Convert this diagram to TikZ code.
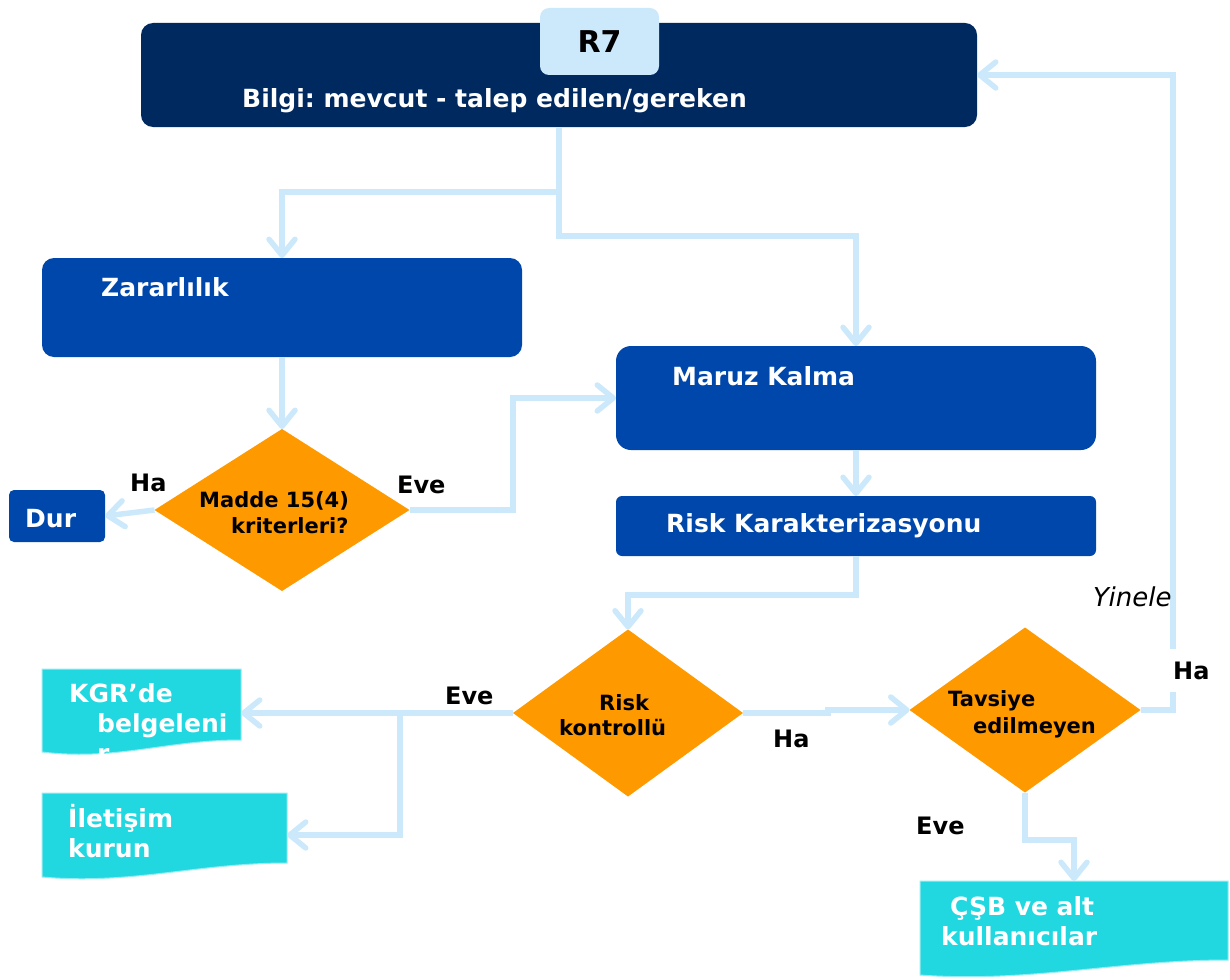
\documentclass[tikz,border=0pt]{standalone}
\usepackage{fontspec}
\setmainfont{DejaVu Sans}
\usetikzlibrary{shapes.geometric,arrows.meta,calc}
\definecolor{navy}{RGB}{0,41,96}
\definecolor{boxblue}{RGB}{0,71,171}
\definecolor{paleblue}{RGB}{204,233,252}
\definecolor{amber}{RGB}{255,153,0}
\definecolor{aqua}{RGB}{34,216,224}
\definecolor{aquaedge}{RGB}{150,236,240}
\frenchspacing

\begin{document}
\begin{tikzpicture}[x=1pt,y=-1pt,
  box/.style={rectangle, inner sep=0pt, outer sep=0pt},
  navybox/.style={box, fill=navy, rounded corners=12pt},
  bluebox/.style={box, fill=boxblue},
  tagbox/.style={box, fill=paleblue, rounded corners=9pt},
  decision/.style={diamond, inner sep=0pt, outer sep=0pt, fill=amber},
  docbase/.style={box},
  docfill/.style={fill=aqua, draw=aquaedge, line width=1pt},
  boxtext/.style={inner sep=0pt, anchor=base west, text=white,
    font=\fontsize{25}{30}\selectfont\bfseries},
  decisiontext/.style={inner sep=0pt, anchor=base west, text=black,
    font=\fontsize{21}{25}\selectfont\bfseries},
  answer/.style={inner sep=0pt, anchor=base west, text=black,
    font=\fontsize{24}{28}\selectfont\bfseries},
  link/.style={draw=paleblue, line width=5.5pt},
  arrowlink/.style={link, -{Straight Barb[length=16pt, width=26pt, round]}}
]
\useasboundingbox (0,0) rectangle (1230,979);

% ---- boxes ----
\node[navybox, minimum width=836pt, minimum height=104pt] (top) at (559,75) {};
\node[tagbox, minimum width=119pt, minimum height=67pt] (tag) at (599.5,41.5) {};
\node[bluebox, rounded corners=12pt, minimum width=480pt, minimum height=99pt] (zar) at (282,307.5) {};
\node[bluebox, rounded corners=15pt, minimum width=480pt, minimum height=104pt] (mar) at (856,398) {};
\node[bluebox, rounded corners=6pt, minimum width=480pt, minimum height=60pt] (rk) at (856,526) {};
\node[bluebox, rounded corners=5pt, minimum width=96pt, minimum height=52pt] (dur) at (57,516) {};

% ---- decisions ----
\node[decision, minimum width=255pt, minimum height=162pt] (d1) at (282,510) {};
\node[decision, minimum width=230pt, minimum height=167pt] (d2) at (628,713) {};
\node[decision, minimum width=231pt, minimum height=165pt] (d3) at (1025,710) {};

% ---- document shapes (wavy bottom edge) ----
\node[docbase, minimum width=199pt, minimum height=83pt] (kgr) at (141.5,710.5) {};
\node[docbase, minimum width=245pt, minimum height=84pt] (ilet) at (164.5,835) {};
\node[docbase, minimum width=308pt, minimum height=94pt] (csb) at (1074,928) {};

\fill[docfill] (kgr.north west) -- (kgr.north east) -- ($(kgr.south east)+(0,-12)$)
  .. controls ($(kgr.south east)+(-75,-12)$) and ($(kgr.south west)+(75,9)$) .. (kgr.south west) -- cycle;
\fill[docfill] (ilet.north west) -- (ilet.north east) -- ($(ilet.south east)+(0,-14)$)
  .. controls ($(ilet.south east)+(-90,-14)$) and ($(ilet.south west)+(90,8)$) .. (ilet.south west) -- cycle;
\fill[docfill] (csb.north west) -- (csb.north east) -- ($(csb.south east)+(0,-15)$)
  .. controls ($(csb.south east)+(-110,-15)$) and ($(csb.south west)+(110,8)$) .. (csb.south west) -- cycle;

% ---- connectors ----
\coordinate (j1) at (559,192);
\coordinate (j2) at (559,236);
\coordinate (j3) at (513,398);
\coordinate (j4) at (856,595);
\coordinate (j5) at (400,713);
\coordinate (j6) at (828,713);
\coordinate (j7) at (1173,75);
\coordinate (j8) at (1025,840);

\draw[arrowlink] (top.south) -- (j2) -| (mar.north);
\draw[arrowlink] (j1) -| (zar.north);
\draw[arrowlink] (zar.south) -- (d1.north);
\draw[arrowlink] (d1.west) -- (dur.east);
\draw[arrowlink] (d1.east) -| (j3) -- (mar.west);
\draw[arrowlink] (mar.south) -- (rk.north);
\draw[arrowlink] (rk.south) -- (j4) -| (d2.north);
\draw[arrowlink] (d2.west) -- (kgr.east |- d2.west);
\draw[arrowlink] (j5) |- (ilet.east);
\draw[arrowlink] (d2.east) -- (j6) |- (d3.west);
\draw[arrowlink] (d3.east) -| (j7) -- (top.east);
\draw[arrowlink] (d3.south) -- (j8) -| (csb.north);

% ---- texts ----
\node[boxtext] (tTop) at (242,108) {Bilgi: mevcut - talep edilen/gereken};
\node[inner sep=0pt, anchor=base, text=black, font=\fontsize{30}{36}\selectfont\bfseries] (tTag) at (599.5,53) {R7};
\node[boxtext] (tZar) at (101,296) {Zararlılık};
\node[boxtext] (tMar) at (672,385) {Maruz Kalma};
\node[boxtext] (tRk) at (666,532) {Risk Karakterizasyonu};
\node[boxtext] (tDur) at (25,527) {Dur};

\node[decisiontext] (tD1a) at (199,507) {Madde 15(4)};
\node[decisiontext] (tD1b) at (231,533) {kriterleri?};
\node[decisiontext] (tD2a) at (599,710) {Risk};
\node[decisiontext] (tD2b) at (559,735) {kontrollü};
\node[decisiontext] (tD3a) at (948,706) {Tavsiye};
\node[decisiontext] (tD3b) at (973,733) {edilmeyen};

\node[boxtext] (tKgrA) at (69,702) {KGR’de};
\node[boxtext] (tKgrB) at (97,732) {belgeleni};
\node[boxtext] (tKgrC) at (97,762) {r};
\node[boxtext] (tIletA) at (68,827) {İletişim};
\node[boxtext] (tIletB) at (68,857) {kurun};
\node[boxtext] (tCsbA) at (950,915) {ÇŞB ve alt};
\node[boxtext] (tCsbB) at (941,945) {kullanıcılar};

\node[answer] (aHa1) at (130,491) {Ha};
\node[answer] (aEve1) at (397,493) {Eve};
\node[answer] (aEve2) at (445,704) {Eve};
\node[answer] (aHa2) at (773,747) {Ha};
\node[answer] (aEve3) at (916,834) {Eve};
\node[answer, fill=white, inner xsep=3pt, inner ysep=13pt] (aHa3) at (1170,679) {Ha};
\node[inner sep=0pt, anchor=base west, text=black,
  font=\fontsize{26}{30}\selectfont\itshape] (tRepeat) at (1093,606) {Yinele};
\end{tikzpicture}
\end{document}
